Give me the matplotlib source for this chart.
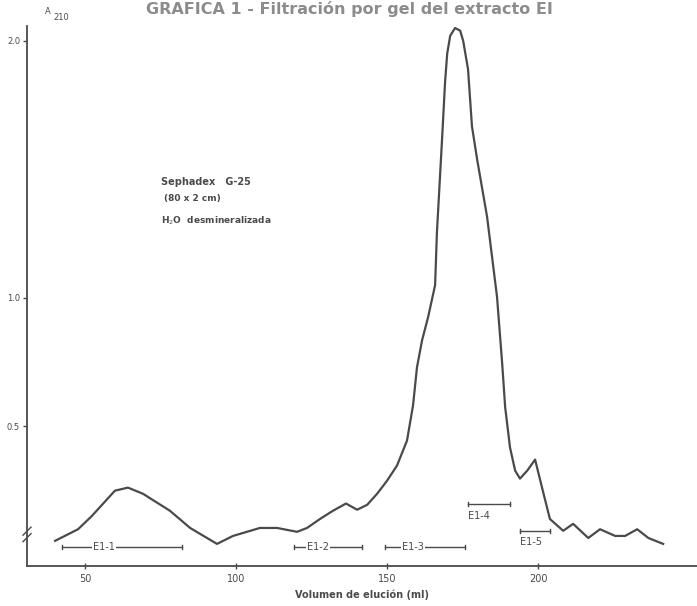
import matplotlib
matplotlib.use("Agg")
import matplotlib.pyplot as plt

# elution volume (ml) and absorbance
volumen = [40.1, 47.7, 52.3, 59.9, 64.2, 69.2, 78.1, 84.8, 93.7, 99.0,
           107.9, 113.6, 120.2, 123.5, 127.8, 132.1, 136.4, 140.1, 143.4, 146.7,
           150.0, 153.3, 156.6, 158.6, 159.9, 161.6, 163.6, 165.9, 166.5, 168.2,
           169.2, 169.9, 170.9, 172.5, 174.2, 175.2, 176.8, 178.1, 179.8, 183.1,
           186.4, 188.1, 189.1, 190.7, 192.4, 194.0, 196.4, 199.0, 201.3, 203.9,
           208.3, 211.6, 216.6, 220.5, 225.5, 228.8, 232.8, 236.5, 241.4]
absorb = [0.055, 0.10, 0.152, 0.25, 0.262, 0.238, 0.172, 0.105, 0.043, 0.074,
          0.105, 0.105, 0.09, 0.105, 0.14, 0.172, 0.20, 0.176, 0.195, 0.238,
          0.289, 0.348, 0.445, 0.582, 0.73, 0.836, 0.926, 1.05, 1.254, 1.617,
          1.84, 1.95, 2.02, 2.05, 2.04, 2.0, 1.89, 1.668, 1.54, 1.316,
          1.004, 0.746, 0.574, 0.418, 0.328, 0.297, 0.328, 0.371, 0.262, 0.14,
          0.094, 0.121, 0.066, 0.10, 0.074, 0.074, 0.10, 0.066, 0.043]

x_ticks = [50, 100, 150, 200]
y_ticks = [0.5, 1.0, 2.0]
y_tick_labels = ["0.5", "1.0", "2.0"]

# fractions: name, start, end, y of bar, y of label
fracciones = [("E1-1", 42.4, 82.1, 0.031, None),
              ("E1-2", 119.2, 141.7, 0.031, None),
              ("E1-3", 149.3, 175.8, 0.031, None),
              ("E1-4", 176.8, 190.7, 0.198, 0.150),
              ("E1-5", 194.0, 203.9, 0.093, 0.052)]

ink = "#4a4a4a"

fig = plt.figure(figsize=(6.97, 6.06), dpi=100)
W, H = 697, 606
ax = fig.add_axes([27 / W, (H - 566) / H, (W - 27) / W, (566 - 26) / H])
ax.set_xlim(30.8, 252.6)
ax.set_ylim(-0.043, 2.058)

ax.plot(volumen, absorb, color=ink, lw=1.6, solid_joinstyle="round")

for sp in ["top", "right"]:
    ax.spines[sp].set_visible(False)
for sp in ["left", "bottom"]:
    ax.spines[sp].set_color(ink)
    ax.spines[sp].set_linewidth(1.3)

ax.set_xticks(x_ticks)
ax.set_xticklabels([str(t) for t in x_ticks])
ax.set_yticks(y_ticks)
ax.set_yticklabels(y_tick_labels)
ax.tick_params(axis="x", direction="inout", length=5, width=1, colors=ink,
               labelsize=7, pad=3)
ax.tick_params(axis="y", direction="out", length=3, width=1, colors=ink,
               labelsize=6, pad=2)

# axis break mark on y axis
for dy in (0.0, 0.012):
    ax.plot([-0.006, 0.006], [0.045 + dy, 0.06 + dy], transform=ax.transAxes,
            color=ink, lw=1, clip_on=False)

ax.set_xlabel("Volumen de elución (ml)", fontsize=7, color=ink,
              fontweight="bold", labelpad=4)

# fraction bars
for nombre, a, b, yb, yl in fracciones:
    ax.plot([a, b], [yb, yb], color=ink, lw=1)
    ax.plot([a, a], [yb - 0.008, yb + 0.008], color=ink, lw=1)
    ax.plot([b, b], [yb - 0.008, yb + 0.008], color=ink, lw=1)
    if yl is None:
        ax.text((a + b) / 2 - (b - a) * 0.15, yb, nombre, fontsize=7,
                color=ink, ha="center", va="center",
                bbox=dict(facecolor="white", edgecolor="none", pad=0.5))
    else:
        ax.text(a, yl, nombre, fontsize=7, color=ink, ha="left", va="center")

ax.text(75, 1.45, "Sephadex   G-25", fontsize=7, color=ink,
        fontweight="bold", va="center")
ax.text(76, 1.385, "(80 x 2 cm)", fontsize=6.5, color=ink,
        fontweight="bold", va="center")
ax.text(75, 1.30, "H$_2$O  desmineralizada", fontsize=6.5, color=ink,
        fontweight="bold", va="center")

fig.text(45 / W, 1 - 12 / H, "A", fontsize=6, color=ink, ha="left", va="center")
fig.text(53 / W, 1 - 17 / H, "210", fontsize=6, color=ink, ha="left", va="center")

fig.text(349 / W, 1 - 1 / H, "GRAFICA 1 - Filtración por gel del extracto EI",
         fontsize=11.5, fontweight="bold", color="#8c8c8c", ha="center", va="top")

fig.savefig("out.png", dpi=100, facecolor="white")
